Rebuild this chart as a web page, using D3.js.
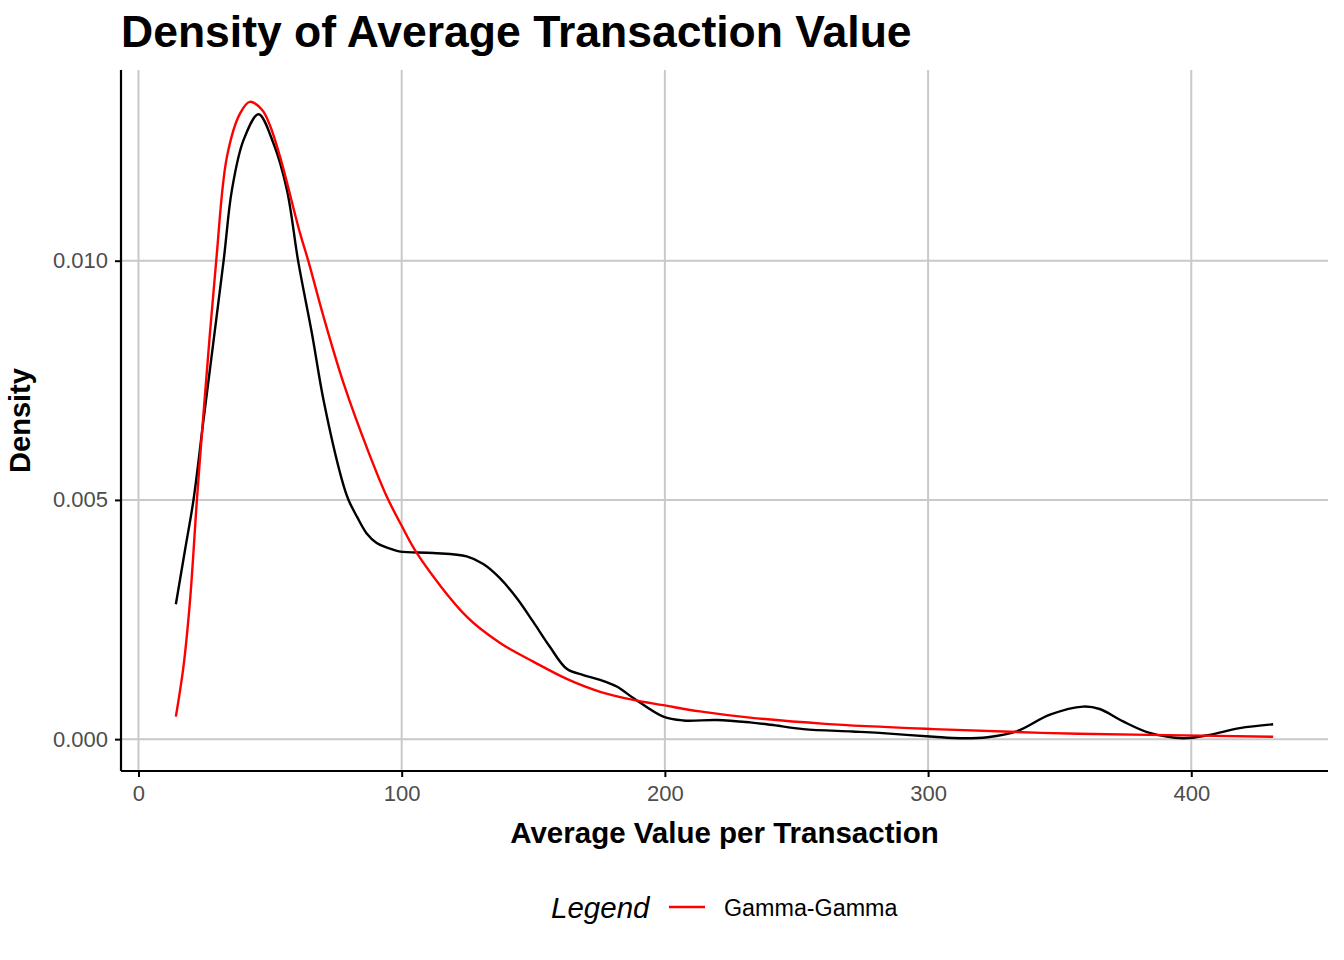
<!DOCTYPE html>
<html>
<head>
<meta charset="utf-8">
<script src="https://cdn.jsdelivr.net/npm/d3@7"></script>
<style>
  html, body { margin: 0; padding: 0; background: #fff; }
  text { font-family: "Liberation Sans", Arial, Helvetica, sans-serif; }
</style>
</head>
<body>
<svg id="chart" width="1344" height="960"></svg>
<script>
// ---- Data ----
const densityX = [14.2, 17.7, 20.9, 24.7, 32.3, 35.5, 39.9, 45.6, 51.3, 56.4, 60.7, 65.9, 70.3, 77.3, 79.8, 83.0, 86.7, 90.5, 95.6, 99.4, 112.0, 124.7, 131.0, 137.4, 143.7, 150.0, 156.3, 162.7, 169.0, 175.4, 181.7, 188.0, 199.4, 207.0, 219.7, 232.3, 240.3, 252.6, 271.2, 281.5, 302.1, 312.3, 322.6, 333.6, 346.3, 358.9, 365.2, 374.1, 384.2, 396.9, 407.0, 418.4, 431.1];
const densityY = [0.00282, 0.00396, 0.00500, 0.00667, 0.00998, 0.01148, 0.01252, 0.01306, 0.01245, 0.01148, 0.00998, 0.00848, 0.00709, 0.00542, 0.00500, 0.00465, 0.00430, 0.00410, 0.00398, 0.00392, 0.00389, 0.00382, 0.00366, 0.00336, 0.00295, 0.00245, 0.00193, 0.00147, 0.00134, 0.00124, 0.00110, 0.00086, 0.00047, 0.00039, 0.00040, 0.00035, 0.00030, 0.00021, 0.00016, 0.00013, 0.00005, 0.00002, 0.00004, 0.00016, 0.00051, 0.00068, 0.00063, 0.00037, 0.00013, 0.00002, 0.00009, 0.00023, 0.00031];

const gammaX = [14.2, 17.1, 19.6, 22.2, 24.5, 29.5, 33.6, 38.6, 42.3, 47.0, 50.0, 53.8, 61.4, 64.6, 70.3, 77.9, 87.4, 94.5, 99.8, 106.2, 124.7, 137.4, 150.0, 162.7, 175.4, 188.0, 199.4, 213.3, 232.3, 260.9, 302.1, 343.2, 384.2, 431.1];
const gammaY = [0.00047, 0.00152, 0.00291, 0.00500, 0.00667, 0.00998, 0.01217, 0.01308, 0.01332, 0.01315, 0.01282, 0.01217, 0.01057, 0.00998, 0.00883, 0.00744, 0.00600, 0.00505, 0.00448, 0.00385, 0.00256, 0.00201, 0.00162, 0.00126, 0.00099, 0.00082, 0.00071, 0.00058, 0.00045, 0.00032, 0.00021, 0.00013, 0.00009, 0.00005];

const xTicks = [0, 100, 200, 300, 400];
const yTicks = [0, 0.005, 0.010];
const yTickLabels = ["0.000", "0.005", "0.010"];

const titleText = "Density of Average Transaction Value";
const xTitle = "Average Value per Transaction";
const yTitle = "Density";
const legendTitle = "Legend";
const legendLabel = "Gamma-Gamma";

(function () {
// ---- Layout ----
const svg = d3.select("#chart");
const pLeft = 121, pRight = 1328, pTop = 70, pBottom = 771;

const allX = densityX.concat(gammaX);
const allY = densityY.concat(gammaY);
const xMin = d3.min(allX), xMax = d3.max(allX);
const yMax = d3.max(allY);
const xPad = (xMax - xMin) * 0.05;
const yPad = yMax * 0.05;

const x = d3.scaleLinear().domain([xMin - xPad, xMax + xPad]).range([pLeft, pRight]);
const y = d3.scaleLinear().domain([-yPad, yMax + yPad]).range([pBottom, pTop]);

// gridlines
const grid = svg.append("g");
grid.selectAll("line.vx").data(xTicks).enter().append("line")
  .attr("x1", d => x(d)).attr("x2", d => x(d))
  .attr("y1", pTop).attr("y2", pBottom)
  .attr("stroke", "#c9c9c9").attr("stroke-width", 2);
grid.selectAll("line.hy").data(yTicks).enter().append("line")
  .attr("x1", pLeft).attr("x2", pRight)
  .attr("y1", d => y(d)).attr("y2", d => y(d))
  .attr("stroke", "#c9c9c9").attr("stroke-width", 2);

// curves
const densityData = densityX.map((d, i) => [d, densityY[i]]);
const gammaData = gammaX.map((d, i) => [d, gammaY[i]]);
const line = d3.line().x(d => x(d[0])).y(d => y(d[1])).curve(d3.curveCatmullRom.alpha(0.5));

svg.append("path").datum(densityData).attr("d", line)
  .attr("fill", "none").attr("stroke", "#000000").attr("stroke-width", 2.4)
  .attr("stroke-linejoin", "round");
svg.append("path").datum(gammaData).attr("d", line)
  .attr("fill", "none").attr("stroke", "#ff0000").attr("stroke-width", 2.4)
  .attr("stroke-linejoin", "round");

// axes
const xAxis = d3.axisBottom(x).tickValues(xTicks).tickSize(6).tickPadding(8);
const yAxis = d3.axisLeft(y).tickValues(yTicks).tickSize(6).tickPadding(7)
  .tickFormat((d, i) => yTickLabels[i]);

const gx = svg.append("g").attr("transform", `translate(0,${pBottom})`).call(xAxis);
gx.select(".domain").remove();
gx.selectAll(".tick line").attr("stroke", "#000").attr("stroke-width", 2);
gx.selectAll(".tick text").attr("fill", "#4d4d4d").style("font-size", "22px")
  .style("font-family", '"Liberation Sans", Arial, sans-serif');

const gy = svg.append("g").attr("transform", `translate(${pLeft},0)`).call(yAxis);
gy.select(".domain").remove();
gy.selectAll(".tick line").attr("stroke", "#000").attr("stroke-width", 2);
gy.selectAll(".tick text").attr("fill", "#4d4d4d").style("font-size", "22px")
  .style("font-family", '"Liberation Sans", Arial, sans-serif');

// axis lines
svg.append("line").attr("x1", pLeft).attr("x2", pRight).attr("y1", pBottom).attr("y2", pBottom)
  .attr("stroke", "#000").attr("stroke-width", 2.2);
svg.append("line").attr("x1", pLeft).attr("x2", pLeft).attr("y1", pTop).attr("y2", pBottom)
  .attr("stroke", "#000").attr("stroke-width", 2.2);

// titles
svg.append("text").attr("x", 121).attr("y", 47)
  .style("font-size", "44.5px").style("font-weight", "bold").attr("fill", "#000")
  .text(titleText);

svg.append("text").attr("x", (pLeft + pRight) / 2).attr("y", 843)
  .attr("text-anchor", "middle")
  .style("font-size", "29.5px").style("font-weight", "bold").attr("fill", "#000")
  .text(xTitle);

svg.append("text")
  .attr("transform", `translate(30,${(pTop + pBottom) / 2}) rotate(-90)`)
  .attr("text-anchor", "middle")
  .style("font-size", "29px").style("font-weight", "bold").attr("fill", "#000")
  .text(yTitle);

// legend
const lg = svg.append("g");
lg.append("text").attr("x", 551).attr("y", 918)
  .style("font-size", "29.5px").style("font-style", "italic").attr("fill", "#000")
  .text(legendTitle);
lg.append("line").attr("x1", 669).attr("x2", 705).attr("y1", 907).attr("y2", 907)
  .attr("stroke", "#ff0000").attr("stroke-width", 2.4);
lg.append("text").attr("x", 724).attr("y", 916)
  .style("font-size", "23.3px").attr("fill", "#000")
  .text(legendLabel);
})();
</script>
</body>
</html>
